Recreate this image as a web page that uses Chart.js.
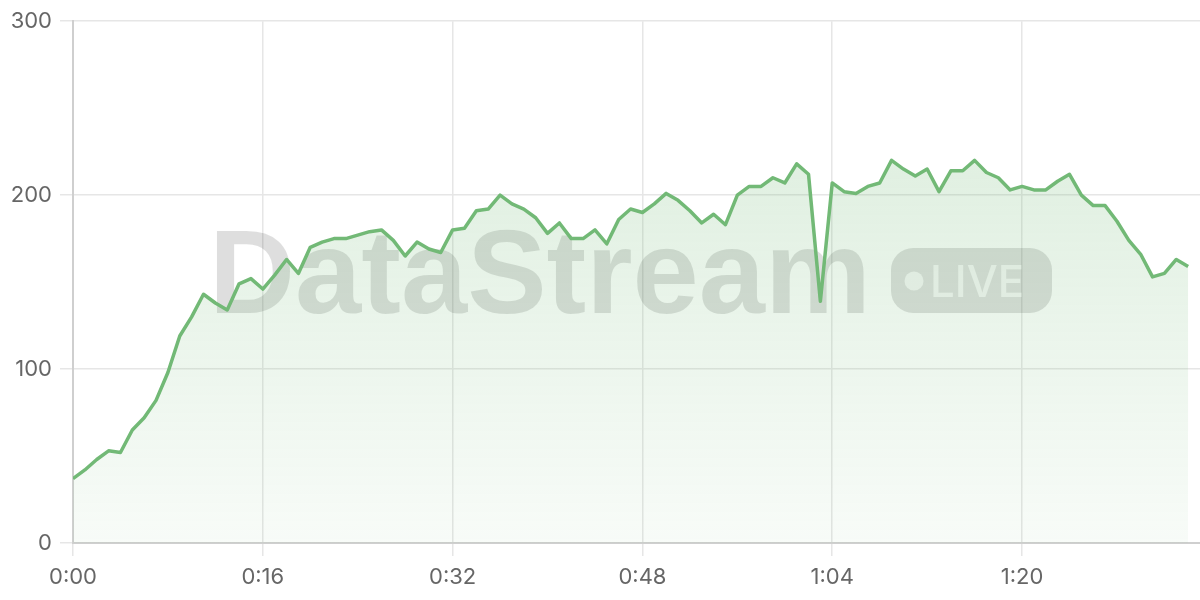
<!DOCTYPE html>
<html>
<head>
<meta charset="utf-8">
<script src="https://cdn.jsdelivr.net/npm/chart.js@4.4.1/dist/chart.umd.min.js"></script>
<style>
  html, body { margin: 0; padding: 0; background: #fff; }
  #wrap { width: 1200px; height: 600px; position: relative; }
</style>
</head>
<body>
<div id="wrap"><canvas id="myChart"></canvas></div>
<script>
"use strict";

// seconds since start
const seconds = [
    0, 1, 2, 3, 4, 5, 6, 7, 8, 9, 10, 11, 12, 13, 14, 15, 16, 17, 18, 19,
    20, 21, 22, 23, 24, 25, 26, 27, 28, 29, 30, 31, 32, 33, 34, 35, 36, 37, 38, 39,
    40, 41, 42, 43, 44, 45, 46, 47, 48, 49, 50, 51, 52, 53, 54, 55, 56, 57, 58, 59,
    60, 61, 62, 63, 64, 65, 66, 67, 68, 69, 70, 71, 72, 73, 74, 75, 76, 77, 78, 79,
    80, 81, 82, 83, 84, 85, 86, 87, 88, 89, 90, 91, 92, 93, 94
];

const viewers = [
    37, 42, 48, 53, 52, 65, 72, 82, 98, 119, 130, 143, 138, 134, 149, 152, 146, 154, 163, 155,
    170, 173, 175, 175, 177, 179, 180, 174, 165, 173, 169, 167, 180, 181, 191, 192, 200, 195, 192, 187,
    178, 184, 175, 175, 180, 172, 186, 192, 190, 195, 201, 197, 191, 184, 189, 183, 200, 205, 205, 210,
    207, 218, 212, 139, 207, 202, 201, 205, 207, 220, 215, 211, 215, 202, 214, 214, 220, 213, 210, 203,
    205, 203, 203, 208, 212, 200, 194, 194, 185, 174, 166, 153, 155, 163, 159
];

const xTicks = [0, 16, 32, 48, 64, 80];
const yTicks = [0, 100, 200, 300];

const fmtTime = (s) => Math.floor(s / 60) + ":" + String(s % 60).padStart(2, "0");

const green = "rgb(114, 185, 118)";

const watermark = {
    id: "watermark",
    beforeDatasetsDraw(chart) {
        const ctx = chart.ctx;
        ctx.save();

        // big brand text
        ctx.font = "bold 100px 'Liberation Sans', Arial, sans-serif";
        let w = ctx.measureText("DataStream").width;
        let size = 100 * 662 / w;
        ctx.font = "bold " + size + "px 'Liberation Sans', Arial, sans-serif";
        ctx.fillStyle = "rgba(0, 0, 0, 0.13)";
        ctx.textBaseline = "alphabetic";
        ctx.textAlign = "left";
        ctx.fillText("DataStream", 209, 313);

        // LIVE pill
        ctx.beginPath();
        ctx.roundRect(891, 248, 161, 65, 22);
        ctx.fill();

        ctx.fillStyle = "rgba(255, 255, 255, 0.72)";
        ctx.beginPath();
        ctx.arc(914, 281, 9.5, 0, Math.PI * 2);
        ctx.fill();

        ctx.font = "500 40px Inter, sans-serif";
        w = ctx.measureText("LIVE").width;
        size = 40 * 94 / w;
        ctx.font = "500 " + size + "px Inter, sans-serif";
        ctx.fillText("LIVE", 930, 297);

        ctx.restore();
    }
};

const ctx = document.getElementById("myChart");

new Chart(ctx, {
    type: "line",
    data: {
        labels: seconds,
        datasets: [{
            label: "viewers",
            data: seconds.map((s, i) => ({ x: s, y: viewers[i] })),
            borderColor: green,
            borderWidth: 3.5,
            borderJoinStyle: "round",
            pointRadius: 0,
            tension: 0,
            fill: "origin",
            backgroundColor: (c) => {
                const area = c.chart.chartArea;
                if (!area) return "rgba(114, 185, 118, 0.15)";
                const g = c.chart.ctx.createLinearGradient(0, area.top, 0, area.bottom);
                g.addColorStop(0, "rgba(114, 185, 118, 0.28)");
                g.addColorStop(1, "rgba(114, 185, 118, 0.05)");
                return g;
            }
        }]
    },
    options: {
        responsive: true,
        maintainAspectRatio: false,
        animation: false,
        layout: { padding: { top: 19, right: 0, left: 0, bottom: 0 } },
        plugins: {
            legend: { display: false },
            tooltip: { enabled: false }
        },
        scales: {
            x: {
                type: "linear",
                min: 0,
                max: 95,
                afterBuildTicks: (scale) => {
                    scale.ticks = xTicks.map(v => ({ value: v }));
                },
                afterFit: (scale) => { scale.height = 57; },
                ticks: {
                    color: "#666",
                    font: { family: "Inter", size: 22 },
                    padding: 8,
                    maxRotation: 0,
                    autoSkip: false,
                    callback: (v) => fmtTime(v)
                },
                grid: { color: "#e6e6e6", lineWidth: 1.5, tickLength: 13 },
                border: { color: "#cfcfcf", width: 2 }
            },
            y: {
                min: 0,
                max: 300,
                afterBuildTicks: (scale) => {
                    scale.ticks = yTicks.map(v => ({ value: v }));
                },
                afterFit: (scale) => { scale.width = 73; },
                ticks: {
                    color: "#666",
                    font: { family: "Inter", size: 22 },
                    padding: 8
                },
                grid: { color: "#e6e6e6", lineWidth: 1.5, tickLength: 13 },
                border: { color: "#cfcfcf", width: 2 }
            }
        }
    },
    plugins: [watermark]
});
</script>
</body>
</html>
